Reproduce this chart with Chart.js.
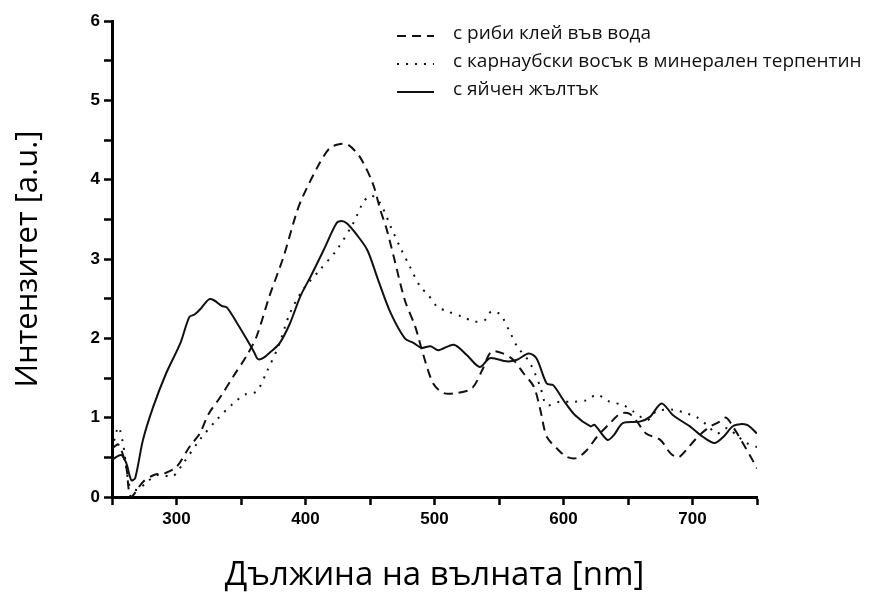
<!DOCTYPE html>
<html>
<head>
<meta charset="utf-8">
<script src="https://cdn.jsdelivr.net/npm/chart.js@4.4.0/dist/chart.umd.min.js"></script>
<style>
  html, body { margin: 0; padding: 0; background: #fff; }
  #wrap { width: 881px; height: 599px; }
</style>
</head>
<body>
<div id="wrap"><canvas id="grafik"></canvas></div>
<script>
// wavelength (nm) / intensity (a.u.)
const xGlue = [250,255,261,263,265,274,283,291,300,310,318,325,334,344,354,362,372,383,393,398,411,419,427,433,442,452,458,463,469,477,485,491,499,507,517,529,537,544,553,561,569,577,582,587,595,602,610,618,626,636,644,651,657,664,675,683,689,695,703,712,721,726,732,739,745,750];
const yGlue = [0.61,0.66,0.38,0.09,0.0,0.19,0.28,0.30,0.38,0.63,0.80,1.05,1.26,1.52,1.77,2.02,2.53,3.03,3.58,3.79,4.21,4.40,4.45,4.44,4.29,3.96,3.62,3.37,2.99,2.48,2.15,1.81,1.43,1.31,1.31,1.37,1.60,1.83,1.81,1.73,1.56,1.39,1.10,0.76,0.61,0.51,0.49,0.59,0.76,0.93,1.05,1.05,0.95,0.80,0.72,0.55,0.50,0.59,0.74,0.87,0.95,1.00,0.87,0.68,0.51,0.36];

const xWax = [250,255,259,261,264,270,277,286,297,305,318,331,344,353,362,370,379,388,398,411,424,437,445,451,458,466,473,481,489,495,502,510,522,531,539,544,551,559,564,574,582,587,597,608,618,626,636,646,654,665,672,685,696,703,711,719,727,734,742,750];
const yWax = [0.60,0.88,0.63,0.38,0.13,0.09,0.19,0.28,0.26,0.42,0.72,0.97,1.18,1.29,1.33,1.58,1.90,2.32,2.61,2.86,3.11,3.45,3.72,3.80,3.70,3.41,3.16,2.90,2.65,2.55,2.40,2.34,2.27,2.21,2.23,2.34,2.30,2.06,1.90,1.69,1.39,1.16,1.20,1.20,1.22,1.29,1.20,1.16,1.08,0.97,1.08,1.10,1.05,1.01,0.91,0.80,0.87,0.78,0.68,0.63];

const xYolk = [250,257,261,265,268,274,282,292,303,310,314,318,325,329,335,339,347,354,360,363,367,373,380,388,396,404,414,424,428,432,440,448,456,466,477,484,490,497,503,515,525,535,543,556,564,573,579,587,592,600,609,621,624,634,639,646,659,667,676,685,698,708,717,724,732,742,750];
const yYolk = [0.47,0.53,0.43,0.21,0.24,0.72,1.14,1.56,1.94,2.27,2.30,2.36,2.49,2.48,2.41,2.39,2.19,2.00,1.83,1.74,1.75,1.83,1.94,2.19,2.53,2.78,3.11,3.45,3.48,3.45,3.30,3.11,2.75,2.32,2.00,1.94,1.88,1.90,1.85,1.92,1.79,1.64,1.75,1.71,1.73,1.81,1.75,1.43,1.41,1.22,1.03,0.89,0.91,0.72,0.78,0.93,0.95,1.01,1.18,1.03,0.89,0.76,0.68,0.76,0.90,0.91,0.80];

const seriesNames = ['с риби клей във вода', 'с карнаубски восък в минерален терпентин', 'с яйчен жълтък'];

function pts(xs, ys) {
    return xs.map(function(x, i) { return {x: x, y: ys[i]}; });
}

// legend drawn inside the plot, top right, with the line style of each dataset
const innerLegend = {
    id: 'innerLegend',
    afterDraw: function(chart) {
        const ctx = chart.ctx;
        ctx.save();
        chart.data.datasets.forEach(function(ds, i) {
            const y = 36 + i * 28;
            ctx.strokeStyle = '#111';
            ctx.lineWidth = 2;
            ctx.setLineDash(ds.borderDash || []);
            ctx.beginPath();
            ctx.moveTo(397, y);
            ctx.lineTo(434, y);
            ctx.stroke();
            ctx.setLineDash([]);
            ctx.fillStyle = '#111';
            ctx.font = '19px "Open Sans"';
            ctx.textBaseline = 'middle';
            ctx.fillText(ds.label, 453, y - 2);
        });
        ctx.restore();
    }
};

const data = {
    datasets: [
        {
            label: seriesNames[0],
            data: pts(xGlue, yGlue),
            borderColor: '#111',
            borderWidth: 2,
            borderDash: [9, 6],
            pointRadius: 0,
            tension: 0.3
        },
        {
            label: seriesNames[1],
            data: pts(xWax, yWax),
            borderColor: '#111',
            borderWidth: 2,
            borderDash: [2, 7],
            pointRadius: 0,
            tension: 0.3
        },
        {
            label: seriesNames[2],
            data: pts(xYolk, yYolk),
            borderColor: '#111',
            borderWidth: 2,
            pointRadius: 0,
            tension: 0.3
        }
    ]
};

const grafik = new Chart(document.getElementById('grafik'),
{
    type: 'line',
    data: data,
    options: {
        responsive: true,
        maintainAspectRatio: false,
        animation: false,
        layout: { padding: { left: 10, right: 124, top: 21, bottom: 4 } },
        plugins: {
            legend: { display: false },
            tooltip: { enabled: false }
        },
        scales: {
            x: {
                type: 'linear',
                min: 250,
                max: 750,
                border: { color: '#000', width: 3 },
                grid: { drawOnChartArea: false, color: '#000', tickLength: 8, tickWidth: 2.5 },
                ticks: {
                    stepSize: 50,
                    autoSkip: false,
                    maxRotation: 0,
                    color: '#000',
                    padding: 4,
                    font: { family: 'Liberation Sans', size: 17, weight: 'bold' },
                    callback: function(v) { return (v % 100 === 0 && v > 250 && v < 750) ? v : ''; }
                },
                title: {
                    display: true,
                    text: 'Дължина на вълната [nm]',
                    color: '#000',
                    font: { family: 'Open Sans', size: 33 },
                    padding: { top: 20, bottom: 0 }
                },
                afterFit: function(s) { s.height = 98; }
            },
            y: {
                min: 0,
                max: 6,
                border: { color: '#000', width: 3 },
                grid: { drawOnChartArea: false, color: '#000', tickLength: 8, tickWidth: 2.5 },
                ticks: {
                    stepSize: 0.5,
                    autoSkip: false,
                    color: '#000',
                    padding: 4,
                    font: { family: 'Liberation Sans', size: 17, weight: 'bold' },
                    callback: function(v) { return Number.isInteger(v) ? v : ''; }
                },
                title: {
                    display: true,
                    text: 'Интензитет [a.u.]',
                    color: '#000',
                    font: { family: 'Open Sans', size: 31 },
                    padding: { top: 0, bottom: 20 }
                },
                afterFit: function(s) { s.width = 102; }
            }
        }
    },
    plugins: [innerLegend]
});
</script>
</body>
</html>
